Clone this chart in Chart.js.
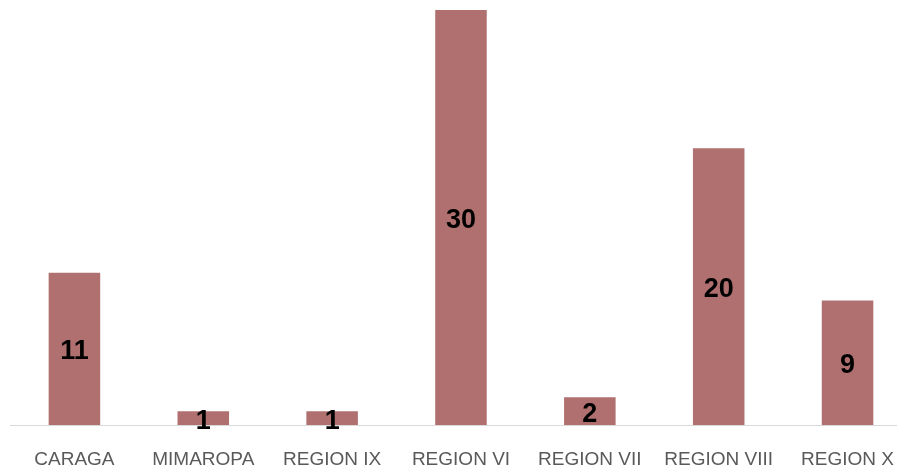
<!DOCTYPE html>
<html>
<head>
<meta charset="utf-8">
<script src="https://cdn.jsdelivr.net/npm/chart.js@4/dist/chart.umd.min.js"></script>
<style>
  html, body { margin: 0; padding: 0; background: #ffffff; overflow: hidden; }
  #wrap { width: 917px; height: 468px; position: relative; }
</style>
</head>
<body>
<div id="wrap"><canvas id="c"></canvas></div>
<script>
const categories = ["CARAGA", "MIMAROPA", "REGION IX", "REGION VI", "REGION VII", "REGION VIII", "REGION X"];
const values = [11, 1, 1, 30, 2, 20, 9];

const barLabels = {
  id: 'barLabels',
  afterDatasetsDraw(chart) {
    const ctx = chart.ctx;
    const meta = chart.getDatasetMeta(0);
    ctx.save();
    ctx.font = 'bold 27px "Liberation Sans", Arial, sans-serif';
    ctx.fillStyle = '#000000';
    ctx.textAlign = 'center';
    ctx.textBaseline = 'middle';
    meta.data.forEach((bar, i) => {
      const v = chart.data.datasets[0].data[i];
      const cy = (bar.y + bar.base) / 2 + 3;
      ctx.fillText(String(v), bar.x, cy);
    });
    ctx.restore();
  }
};

new Chart(document.getElementById('c'), {
  type: 'bar',
  data: {
    labels: categories,
    datasets: [{
      data: values,
      backgroundColor: '#b07070',
      borderWidth: 0,
      categoryPercentage: 1.0,
      barPercentage: 0.4
    }]
  },
  options: {
    responsive: true,
    maintainAspectRatio: false,
    animation: false,
    layout: { padding: { left: 10, right: 0, top: 10, bottom: 0 } },
    plugins: { legend: { display: false }, tooltip: { enabled: false } },
    scales: {
      x: {
        grid: { display: true, drawOnChartArea: false, drawTicks: false },
        border: { color: '#d9d9d9', width: 1 },
        ticks: {
          color: '#595959',
          padding: 23,
          font: { family: '"Liberation Sans", Arial, sans-serif', size: 19 },
          maxRotation: 0,
          autoSkip: false
        },
        afterFit(scale) { scale.height = 43; }
      },
      y: {
        display: false,
        min: 0,
        max: 30
      }
    }
  },
  plugins: [barLabels]
});
</script>
</body>
</html>
